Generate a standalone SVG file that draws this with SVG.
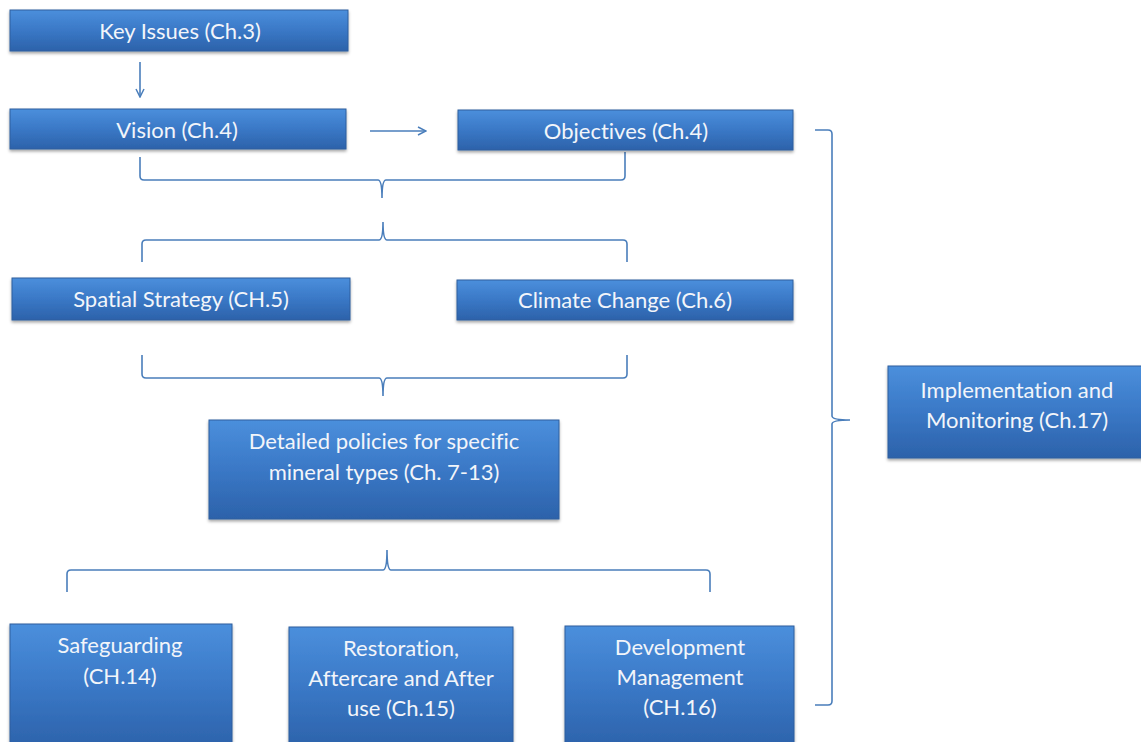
<svg xmlns="http://www.w3.org/2000/svg" width="1141" height="742" viewBox="0 0 1141 742">
<defs>
<linearGradient id="g" x1="0" y1="0" x2="0" y2="1">
<stop offset="0" stop-color="#4b8fdc"/>
<stop offset="0.5" stop-color="#3a78c6"/>
<stop offset="1" stop-color="#2c62aa"/>
</linearGradient>
<filter id="sh" x="-10%" y="-10%" width="120%" height="130%">
<feDropShadow dx="0" dy="2" stdDeviation="1.5" flood-color="#000" flood-opacity="0.35"/>
</filter>
<marker id="ah" viewBox="0 0 10 10" refX="9" refY="5" markerWidth="10" markerHeight="10" orient="auto" markerUnits="userSpaceOnUse">
<path d="M1,1 L9,5 L1,9" fill="none" stroke="#4a7ebb" stroke-width="1.5"/>
</marker>
</defs>
<style>
.box{fill:url(#g);stroke:#2f5f9e;stroke-width:1;filter:url(#sh)}
.t{font-family:Lato,"Liberation Sans",sans-serif;font-size:22px;fill:#f2f5fa;text-anchor:middle;font-variant-ligatures:none}
.c{fill:none;stroke:#4a7ebb;stroke-width:1.6}
</style>
<rect width="1141" height="742" fill="#ffffff"/>
<g id="connectors">
<line class="c" x1="140" y1="62" x2="140" y2="97" marker-end="url(#ah)"/>
<line class="c" x1="370" y1="131" x2="426" y2="131" marker-end="url(#ah)"/>
<path class="c" d="M140,157 V176 Q140,180 144,180 H378 Q382,180 382,198 Q382,180 386,180 H621 Q625,180 625,176 V152"/>
<path class="c" d="M142,262 V244 Q142,240 146,240 H379 Q383,240 383,222 Q383,240 387,240 H623 Q627,240 627,244 V262"/>
<path class="c" d="M142,355 V374 Q142,378 146,378 H379 Q383,378 383,396 Q383,378 387,378 H623 Q627,378 627,374 V355"/>
<path class="c" d="M67,592 V574 Q67,570 71,570 H383 Q387,570 387,550 Q387,570 391,570 H706 Q710,570 710,574 V592"/>
<path class="c" d="M815,130 H828 Q832,130 832,134 V416 Q832,420 850,420 Q832,420 832,424 V701 Q832,705 828,705 H815"/>
</g>
<g id="key-issues"><rect class="box" x="10" y="10" width="338" height="41"/><text class="t" x="180" y="39">Key Issues (Ch.3)</text></g>
<g id="vision"><rect class="box" x="10" y="109" width="336" height="40"/><text class="t" x="177" y="138">Vision (Ch.4)</text></g>
<g id="objectives"><rect class="box" x="458" y="110" width="335" height="40"/><text class="t" x="626" y="139">Objectives (Ch.4)</text></g>
<g id="spatial-strategy"><rect class="box" x="12" y="278" width="338" height="42"/><text class="t" x="181" y="307">Spatial Strategy (CH.5)</text></g>
<g id="climate-change"><rect class="box" x="457" y="280" width="336" height="40"/><text class="t" x="625" y="308">Climate Change (Ch.6)</text></g>
<g id="detailed-policies"><rect class="box" x="209" y="420" width="350" height="99"/><text class="t" x="384" y="449">Detailed policies for specific</text><text class="t" x="384" y="480">mineral types (Ch. 7-13)</text></g>
<g id="implementation"><rect class="box" x="888" y="366" width="260" height="92"/><text class="t" x="1017" y="398">Implementation and</text><text class="t" x="1017" y="428">Monitoring (Ch.17)</text></g>
<g id="safeguarding"><rect class="box" x="10" y="624" width="222" height="125"/><text class="t" x="120" y="653">Safeguarding</text><text class="t" x="120" y="684">(CH.14)</text></g>
<g id="restoration"><rect class="box" x="289" y="627" width="224" height="122"/><text class="t" x="401" y="656">Restoration,</text><text class="t" x="401" y="686">Aftercare and After</text><text class="t" x="401" y="716">use (Ch.15)</text></g>
<g id="development-management"><rect class="box" x="565" y="626" width="229" height="123"/><text class="t" x="680" y="655">Development</text><text class="t" x="680" y="685">Management</text><text class="t" x="680" y="715">(CH.16)</text></g>
</svg>
